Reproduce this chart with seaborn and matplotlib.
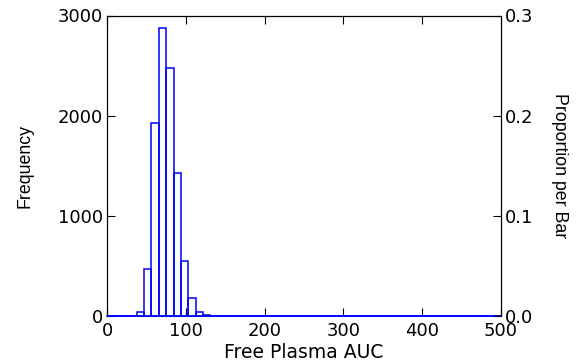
import matplotlib
matplotlib.use("Agg")
import matplotlib.pyplot as plt
import seaborn as sns
import numpy as np

# ---- data ----
bin_width = 9.35            # AUC units per bar
first_bar_bin = 4           # index of the first non-empty bin (bins start at 0)
bar_counts = [40, 465, 1927, 2874, 2475, 1429, 548, 176, 37, 10]
n_total = 10000             # frequency 3000 <-> proportion 0.3
x_ticks = [0, 100, 200, 300, 400, 500]
freq_ticks = [0, 1000, 2000, 3000]
prop_ticks = [0.0, 0.1, 0.2, 0.3]
x_label = "Free Plasma AUC"
y_label = "Frequency"
y2_label = "Proportion per Bar"

sns.set_style("ticks")
plt.rcParams["font.family"] = ["DejaVu Sans"]
plt.rcParams["text.color"] = "black"
plt.rcParams["axes.labelcolor"] = "black"
plt.rcParams["xtick.color"] = "black"
plt.rcParams["ytick.color"] = "black"

edges = list(np.arange(0, 500, bin_width)) + [500]
centers = [edges[first_bar_bin + i] + bin_width / 2 for i in range(len(bar_counts))]

fig = plt.figure(figsize=(5.76, 3.64), dpi=100)
ax = fig.add_axes([107.3 / 576, 1 - 316 / 364, 393.5 / 576, 300.5 / 364])

sns.histplot(x=centers, weights=bar_counts, bins=edges, fill=False,
             element="bars", color="#0000ff", linewidth=1.1, ax=ax)
for p in ax.patches:
    p.set_clip_on(False)
    p.set_zorder(3)

ax.set_xlim(0, 500)
ax.set_ylim(0, 3000)
ax.set_xticks(x_ticks)
ax.set_yticks(freq_ticks)
ax.tick_params(direction="in", length=6, width=0.8, colors="black",
               top=True, right=False, labelsize=13)
ax.tick_params(axis="x", pad=4.5)
ax.tick_params(axis="y", pad=3)

ax.set_xlabel(x_label, fontsize=13.5, labelpad=2)
ax.set_ylabel(y_label, fontsize=12.75, family="Liberation Sans")
ax.yaxis.set_label_coords((33.5 - 107.3) / 393.5, 0.5)

for s in ax.spines.values():
    s.set_linewidth(0.8)
    s.set_color("black")
ax.spines["bottom"].set_color("#0000ff")
ax.spines["bottom"].set_linewidth(1.1)

ax2 = ax.twinx()
ax2.set_ylim(0, 3000 / n_total)
ax2.set_yticks(prop_ticks)
ax2.set_yticklabels([f"{t:.1f}" for t in prop_ticks])
ax2.tick_params(direction="in", length=6, width=0.8, colors="black",
                labelsize=13, pad=3)
ax2.set_ylabel(y2_label, fontsize=12.75, family="Liberation Sans", rotation=-90)
ax2.yaxis.set_label_coords((568 - 107.3) / 393.5, 0.5)
for s in ax2.spines.values():
    s.set_linewidth(0.8)
    s.set_color("black")
ax2.spines["bottom"].set_visible(False)

fig.savefig("out.png", dpi=100)
